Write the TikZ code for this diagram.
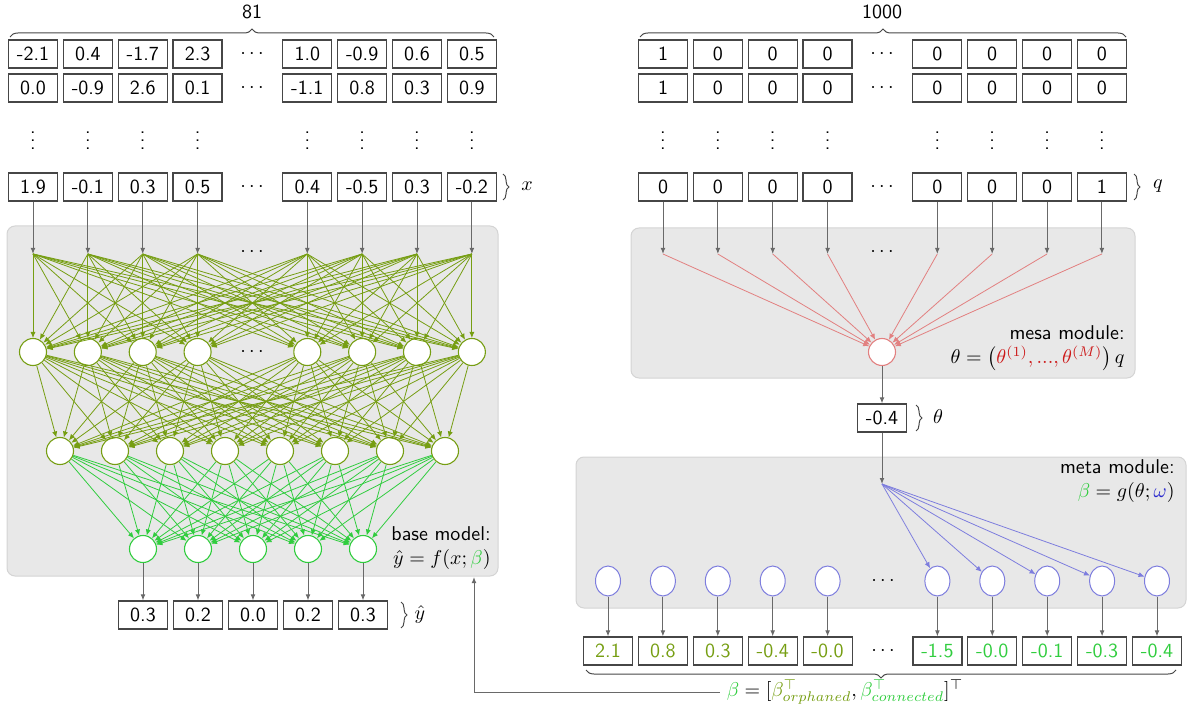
\documentclass[tikz,border=0pt]{standalone}
\usetikzlibrary{arrows.meta,decorations.pathreplacing,shapes.geometric,calc}

\definecolor{olivenet}{RGB}{118,158,18}
\definecolor{brgreen}{RGB}{48,205,62}
\definecolor{mesared}{RGB}{226,128,128}
\definecolor{mesadark}{RGB}{205,25,25}
\definecolor{metablue}{RGB}{125,125,222}
\definecolor{metadark}{RGB}{40,40,205}
\definecolor{linkgray}{RGB}{105,105,105}
\definecolor{cellline}{RGB}{70,70,70}
\definecolor{panelfill}{RGB}{232,232,232}
\definecolor{panelline}{RGB}{212,212,212}

\tikzset{
  cell/.style={draw=cellline, fill=white, line width=0.6pt, minimum width=24.5pt,
    minimum height=14pt, inner sep=0pt},
  neuron/.style={circle, draw=#1, fill=white, line width=0.55pt, minimum size=13.5pt, inner sep=0pt},
  metaneuron/.style={ellipse, draw=metablue, fill=white, line width=0.5pt,
    minimum width=12.5pt, minimum height=15pt, inner sep=0pt},
  graylink/.style={draw=linkgray, line width=0.5pt, -{Latex[length=3pt,width=2.4pt]}},
  netlink/.style={draw=#1, line width=0.4pt, -{Latex[length=3pt,width=2.6pt]}},
  panel/.style={fill=panelfill, draw=panelline, line width=0.5pt, rounded corners=4pt},
  bigbrace/.style={draw=cellline, line width=0.5pt, decorate, decoration={brace, amplitude=4pt}},
  smallbrace/.style={draw=cellline, line width=0.5pt, decorate, decoration={brace, amplitude=3pt}},
  caption/.style={align=right, anchor=east, inner sep=0pt},
}

\begin{document}
\begin{tikzpicture}[x=0.5pt, y=-0.5pt, font=\sffamily]
\useasboundingbox (0,0) rectangle (1194,711);

% background panels
\draw[panel] (7,226) rectangle (498,576);
\draw[panel] (631,228) rectangle (1135,378);
\draw[panel] (576,457) rectangle (1186,608);

% ---------------- base model: input data matrix ----------------
\node (n81) at (252,12) {81};
\draw[bigbrace] (10,37) -- (494,37);
\foreach \k/\a/\b/\c in {1/-2.1/0.0/1.9, 2/0.4/-0.9/-0.1, 3/-1.7/2.6/0.3, 4/2.3/0.1/0.5,
                         5/1.0/-1.1/0.4, 6/-0.9/0.8/-0.5, 7/0.6/0.3/0.3, 8/0.5/0.9/-0.2} {
  \pgfmathsetmacro\cx{33+54.86*(\k<=4 ? \k-1 : \k)}
  \node[cell] (xa-\k) at (\cx,54) {\a};
  \node[cell] (xb-\k) at (\cx,88) {\b};
  \node (xv-\k) at (\cx,135) {$\vdots$};
  \node[cell] (xc-\k) at (\cx,187) {\c};
  \coordinate (p-\k) at (\cx,254);
  \draw[graylink] (xc-\k) -- (p-\k);
}
\node (xda) at (252,54) {$\cdots$};
\node (xdb) at (252,88) {$\cdots$};
\node (xdc) at (252,187) {$\cdots$};
\draw[smallbrace] (503,174) -- (503,200);
\node (lx) at (527,186) {$x$};

% ---------------- base model: network ----------------
\node (pd) at (252,252) {$\cdots$};
\foreach \k in {1,...,8} {
  \pgfmathsetmacro\cx{33+54.86*(\k<=4 ? \k-1 : \k)}
  \node[neuron=olivenet] (h1-\k) at (\cx,352) {};
}
\node (h1d) at (252,352) {$\cdots$};
\foreach \k in {1,...,8} \node[neuron=olivenet] (h2-\k) at (5+55*\k,451) {};
\foreach \k in {1,...,5} \node[neuron=brgreen] (o-\k) at (88+55*\k,549) {};

\foreach \i in {1,...,8} \foreach \j in {1,...,8}
  \draw[netlink=olivenet] (p-\i) -- (h1-\j);
\foreach \i in {1,...,8} \foreach \j in {1,...,8}
  \draw[netlink=olivenet] (h1-\i) -- (h2-\j);
\foreach \i in {1,...,8} \foreach \j in {1,...,5}
  \draw[netlink=brgreen] (h2-\i) -- (o-\j);

\node[caption] (basecap) at (491,548) {base model:\\ $\hat y = f(x;{\color{brgreen}\beta})$};

% outputs
\foreach \k/\v in {1/0.3, 2/0.2, 3/0.0, 4/0.2, 5/0.3} {
  \node[cell] (yb-\k) at (88+55*\k,615) {\v};
  \draw[graylink] (o-\k) -- (yb-\k);
}
\draw[smallbrace] (401,602) -- (401,628);
\node (ly) at (420,614) {$\hat y$};

% ---------------- mesa module ----------------
\node (n1000) at (882,12) {1000};
\draw[bigbrace] (640,37) -- (1126,37);
\foreach \k/\a/\b/\c in {1/1/1/0, 2/0/0/0, 3/0/0/0, 4/0/0/0,
                         5/0/0/0, 6/0/0/0, 7/0/0/0, 8/0/0/1} {
  \pgfmathsetmacro\cx{663+54.86*(\k<=4 ? \k-1 : \k)}
  \node[cell] (qa-\k) at (\cx,54) {\a};
  \node[cell] (qb-\k) at (\cx,88) {\b};
  \node (qv-\k) at (\cx,135) {$\vdots$};
  \node[cell] (qc-\k) at (\cx,187) {\c};
  \coordinate (qp-\k) at (\cx,254);
  \draw[graylink] (qc-\k) -- (qp-\k);
}
\node (qda) at (882,54) {$\cdots$};
\node (qdb) at (882,88) {$\cdots$};
\node (qdc) at (882,187) {$\cdots$};
\node (qpd) at (882,252) {$\cdots$};
\draw[smallbrace] (1134,174) -- (1134,200);
\node (lq) at (1158,186) {$q$};

\node[neuron=mesared] (m) at (882,352) {};
\foreach \k in {1,...,8} \draw[netlink=mesared] (qp-\k) -- (m);
\node[caption] (mesacap) at (1125,348)
  {mesa module:\\ $\theta = \bigl({\color{mesadark}\theta^{(1)},...,\theta^{(M)}}\bigr)\,q$};

% theta
\node[cell] (th) at (882,418) {-0.4};
\draw[graylink] (m) -- (th);
\draw[smallbrace] (916,405) -- (916,431);
\node (lth) at (938,417) {$\theta$};

% ---------------- meta module ----------------
\coordinate (mp) at (882,484);
\draw[graylink] (th) -- (mp);
\node[caption] (metacap) at (1175,481)
  {meta module:\\ ${\color{brgreen}\beta} = g(\theta;{\color{metadark}\omega})$};

\foreach \k/\v/\c in {1/2.1/olivenet, 2/0.8/olivenet, 3/0.3/olivenet, 4/-0.4/olivenet, 5/-0.0/olivenet,
                      6/-1.5/brgreen, 7/-0.0/brgreen, 8/-0.1/brgreen, 9/-0.3/brgreen, 10/-0.4/brgreen} {
  \pgfmathsetmacro\cx{608+54.9*(\k<=5 ? \k-1 : \k)}
  \node[metaneuron] (g-\k) at (\cx,581) {};
  \node[cell, text=\c] (bt-\k) at (\cx,651) {\v};
  \draw[graylink] (g-\k) -- (bt-\k);
}
\node (gd) at (883,581) {$\cdots$};
\node (btd) at (883,651) {$\cdots$};
\foreach \k in {6,...,10} \draw[netlink=metablue] (mp) -- (g-\k);

% parameter vector and feedback into the base model
\draw[bigbrace] (1176,670) -- (586,670);
\node (bl) at (845,692)
  {${\color{brgreen}\beta} = [{\color{olivenet}\beta^{\top}_{orphaned}}, {\color{brgreen}\beta^{\top}_{connected}}]^{\top}$};
\coordinate (fb) at (474,577);
\draw[graylink] (bl.west) -| (fb);

\end{tikzpicture}
\end{document}
